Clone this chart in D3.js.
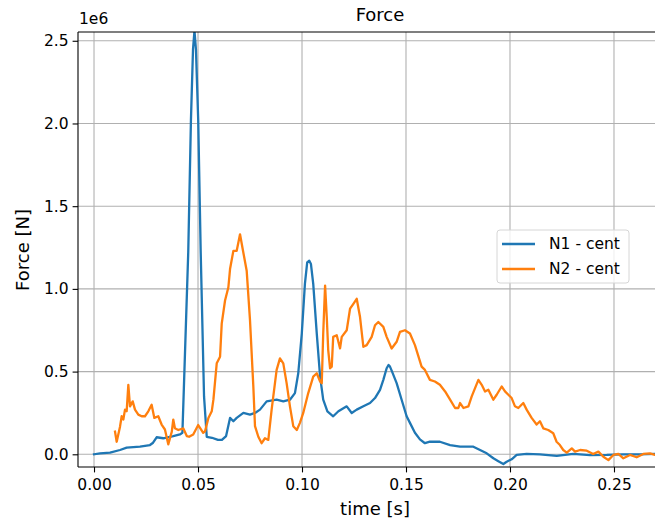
<!DOCTYPE html>
<html><head><meta charset="utf-8">
<script src="https://cdn.jsdelivr.net/npm/d3@7"></script>
<style>body{margin:0;background:#fff}svg{display:block}text{font-family:"DejaVu Sans",sans-serif;fill:#000}</style>
</head><body><svg id="c" width="655" height="523"></svg>
<script>
// N1 - cent : time [s], force [1e6 N]
const n1Time = [0.0000,0.0029,0.0077,0.0125,0.0157,0.0221,0.0269,0.0284,0.0301,0.0333,0.0381,0.0413,0.0425,0.0432,0.0453,0.0466,0.0476,0.0483,0.0490,0.0501,0.0513,0.0529,0.0542,0.0567,0.0596,0.0615,0.0635,0.0654,0.0670,0.0686,0.0718,0.0750,0.0774,0.0798,0.0830,0.0878,0.0910,0.0942,0.0966,0.0982,0.0999,0.1014,0.1025,0.1035,0.1043,0.1054,0.1071,0.1087,0.1102,0.1122,0.1150,0.1175,0.1215,0.1239,0.1263,0.1295,0.1327,0.1351,0.1375,0.1391,0.1407,0.1416,0.1423,0.1433,0.1455,0.1479,0.1503,0.1519,0.1543,0.1567,0.1591,0.1615,0.1663,0.1712,0.1760,0.1824,0.1856,0.1888,0.1920,0.1942,0.1968,0.1984,0.2008,0.2032,0.2080,0.2144,0.2225,0.2304,0.2385,0.2465,0.2543,0.2625,0.2697,0.2769];
const n1Force = [0.000,0.005,0.010,0.026,0.040,0.046,0.056,0.070,0.103,0.097,0.110,0.120,0.130,0.400,1.220,2.020,2.450,2.560,2.450,2.020,1.220,0.350,0.106,0.100,0.087,0.087,0.110,0.220,0.200,0.220,0.250,0.240,0.250,0.270,0.320,0.330,0.320,0.330,0.370,0.490,0.730,1.030,1.160,1.170,1.150,1.030,0.730,0.470,0.330,0.260,0.230,0.260,0.290,0.250,0.270,0.290,0.310,0.340,0.390,0.450,0.520,0.540,0.530,0.500,0.430,0.330,0.230,0.190,0.130,0.090,0.067,0.076,0.076,0.056,0.046,0.046,0.026,0.006,-0.024,-0.040,-0.059,-0.045,-0.030,-0.004,0.002,0.000,-0.010,0.002,-0.005,-0.004,0.000,0.000,0.002,0.000];
// N2 - cent
const n2Time = [0.0101,0.0109,0.0125,0.0133,0.0141,0.0149,0.0157,0.0165,0.0173,0.0186,0.0197,0.0213,0.0229,0.0245,0.0261,0.0277,0.0290,0.0309,0.0325,0.0341,0.0357,0.0374,0.0381,0.0389,0.0405,0.0429,0.0446,0.0457,0.0477,0.0501,0.0525,0.0534,0.0550,0.0566,0.0574,0.0590,0.0606,0.0614,0.0630,0.0646,0.0654,0.0670,0.0686,0.0702,0.0715,0.0734,0.0750,0.0766,0.0774,0.0790,0.0806,0.0822,0.0838,0.0854,0.0878,0.0894,0.0910,0.0926,0.0942,0.0958,0.0975,0.0990,0.1006,0.1030,0.1054,0.1071,0.1087,0.1095,0.1102,0.1111,0.1119,0.1126,0.1135,0.1143,0.1150,0.1167,0.1183,0.1191,0.1215,0.1231,0.1247,0.1263,0.1279,0.1295,0.1311,0.1335,0.1351,0.1367,0.1391,0.1407,0.1431,0.1455,0.1471,0.1495,0.1519,0.1543,0.1575,0.1591,0.1615,0.1639,0.1663,0.1688,0.1712,0.1736,0.1752,0.1760,0.1776,0.1800,0.1816,0.1832,0.1848,0.1864,0.1880,0.1896,0.1920,0.1936,0.1960,0.1976,0.1992,0.2008,0.2024,0.2040,0.2064,0.2080,0.2104,0.2128,0.2144,0.2160,0.2184,0.2208,0.2224,0.2240,0.2256,0.2273,0.2297,0.2313,0.2337,0.2369,0.2400,0.2425,0.2449,0.2473,0.2497,0.2521,0.2545,0.2577,0.2609,0.2641,0.2673,0.2697,0.2769];
const n2Force = [0.137,0.076,0.167,0.230,0.210,0.270,0.260,0.420,0.290,0.320,0.270,0.240,0.230,0.230,0.260,0.300,0.220,0.230,0.180,0.150,0.060,0.137,0.210,0.157,0.147,0.157,0.110,0.106,0.120,0.177,0.130,0.140,0.220,0.260,0.330,0.550,0.590,0.790,0.930,1.010,1.120,1.230,1.230,1.330,1.240,1.110,0.810,0.410,0.170,0.106,0.067,0.097,0.087,0.270,0.510,0.580,0.550,0.430,0.290,0.170,0.147,0.190,0.250,0.370,0.470,0.490,0.440,0.430,0.730,1.020,0.830,0.630,0.520,0.530,0.710,0.720,0.640,0.710,0.750,0.880,0.910,0.940,0.830,0.650,0.660,0.710,0.780,0.800,0.770,0.710,0.640,0.680,0.740,0.750,0.730,0.660,0.530,0.510,0.450,0.440,0.420,0.380,0.330,0.280,0.280,0.310,0.280,0.290,0.350,0.400,0.450,0.420,0.380,0.390,0.330,0.360,0.410,0.380,0.360,0.340,0.290,0.280,0.310,0.270,0.220,0.180,0.200,0.157,0.147,0.127,0.076,0.056,0.026,0.010,0.036,0.016,0.026,0.022,0.002,0.016,-0.015,-0.035,-0.004,0.002,-0.024,-0.004,-0.018,0.002,0.006,-0.004,0.000];
const xTicks = [0.00,0.05,0.10,0.15,0.20,0.25];
const yTicks = [0.0,0.5,1.0,1.5,2.0,2.5];
const seriesNames = ["N1 - cent","N2 - cent"];
const seriesColors = ["#1f77b4","#ff7f0e"];

const L=78, R=682, T=32, B=467;
const svg = d3.select("#c");
const x = d3.scaleLinear().domain([-0.0077,0.2827]).range([L,R]);
const y = d3.scaleLinear().domain([-0.0768,2.553]).range([B,T]);

svg.append("defs").append("clipPath").attr("id","clip").append("rect")
  .attr("x",L).attr("y",T).attr("width",R-L).attr("height",B-T);

// grid
const g = svg.append("g");
g.selectAll(".gx").data(xTicks).join("line")
  .attr("x1",d=>x(d)).attr("x2",d=>x(d)).attr("y1",T).attr("y2",B)
  .attr("stroke","#b0b0b0").attr("stroke-width",1.1);
g.selectAll(".gy").data(yTicks).join("line")
  .attr("x1",L).attr("x2",R).attr("y1",d=>y(d)).attr("y2",d=>y(d))
  .attr("stroke","#b0b0b0").attr("stroke-width",1.1);

// lines
const series = [
  n1Time.map((t,i)=>[t,n1Force[i]]),
  n2Time.map((t,i)=>[t,n2Force[i]])
];
const line = d3.line().x(d=>x(d[0])).y(d=>y(d[1]));
svg.append("g").attr("clip-path","url(#clip)").selectAll("path").data(series).join("path")
  .attr("d",line).attr("fill","none")
  .attr("stroke",(d,i)=>seriesColors[i]).attr("stroke-width",2.3)
  .attr("stroke-linejoin","round").attr("stroke-linecap","square");

// axes
const xAxis = d3.axisBottom(x).tickValues(xTicks).tickFormat(d3.format(".2f")).tickSizeOuter(0).tickSize(5.4).tickPadding(4);
const yAxis = d3.axisLeft(y).tickValues(yTicks).tickFormat(d3.format(".1f")).tickSizeOuter(0).tickSize(5.4).tickPadding(4);
const ax = svg.append("g").attr("transform",`translate(0,${B})`).call(xAxis);
const ay = svg.append("g").attr("transform",`translate(${L},0)`).call(yAxis);
[ax,ay].forEach(a=>{
  a.select(".domain").remove();
  a.selectAll("line").attr("stroke","#000").attr("stroke-width",1.1);
  a.selectAll("text").style("font-family","DejaVu Sans").style("font-size","15.5px").attr("fill","#222");
});
ax.selectAll("text").attr("dy","0.9em");
// spines
svg.append("line").attr("x1",L).attr("x2",L).attr("y1",T).attr("y2",B).attr("stroke","#000").attr("stroke-width",1.1);
svg.append("line").attr("x1",L).attr("x2",R).attr("y1",B).attr("y2",B).attr("stroke","#000").attr("stroke-width",1.1);
svg.append("line").attr("x1",L).attr("x2",R).attr("y1",T).attr("y2",T).attr("stroke","#000").attr("stroke-width",1.1);

// texts
svg.append("text").attr("x",380).attr("y",21).attr("text-anchor","middle").style("font-size","18px").text("Force");
svg.append("text").attr("x",79).attr("y",24).style("font-size","15.5px").attr("fill","#222").text("1e6");
svg.append("text").attr("x",375).attr("y",515).attr("text-anchor","middle").style("font-size","18px").text("time [s]");
svg.append("text").attr("transform","translate(29,250) rotate(-90)").attr("text-anchor","middle").style("font-size","18px").text("Force [N]");

// legend
const lg = svg.append("g");
lg.append("rect").attr("x",497).attr("y",230).attr("width",132).attr("height",53).attr("rx",3)
  .attr("fill","#fff").attr("fill-opacity",0.8).attr("stroke","#d6d6d6").attr("stroke-width",1);
seriesNames.forEach((n,i)=>{
  const yy = 244 + i*25;
  lg.append("line").attr("x1",502).attr("x2",535).attr("y1",yy).attr("y2",yy)
    .attr("stroke",seriesColors[i]).attr("stroke-width",2.3);
  lg.append("text").attr("x",549).attr("y",yy).attr("dy","0.35em").style("font-size","15.5px").attr("fill","#222").text(n);
});
</script></body></html>
